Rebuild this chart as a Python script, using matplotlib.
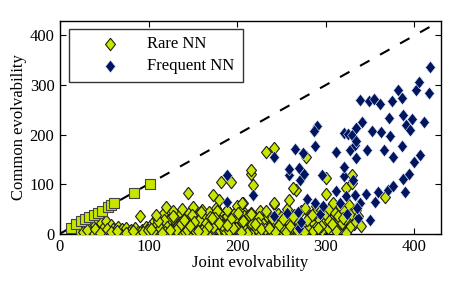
import matplotlib
matplotlib.use("Agg")
import matplotlib.pyplot as plt

plt.rcParams['font.family'] = ['Liberation Serif', 'DejaVu Serif']

# Rare NN (diamonds)
rare_x = [20,24,27,30,33,35,37,40,42,44,46,48,50,52,55,57,60,62,65,68,
          70,72,75,78,80,83,85,88,90,92,95,97,100,
          102,104,106,108,110,112,114,116,118,120,120,122,124,126,128,130,130,132,134,136,138,138,
          140,142,144,144,146,148,150,150,152,154,156,158,160,160,162,164,166,168,170,170,172,174,
          176,178,180,180,182,182,184,186,188,188,190,192,194,196,198,200,200,202,204,205,206,207,
          208,210,212,214,215,216,216,218,218,220,222,224,226,228,230,232,233,234,236,238,240,241,
          242,242,244,246,248,250,252,254,256,258,258,260,262,264,266,266,268,270,272,274,276,277,
          278,280,282,284,286,288,289,290,292,294,296,298,300,300,300,302,304,306,308,310,312,314,
          316,318,320,322,323,324,326,328,329,330,332,334,336,340,367,
          173,179,193,188,205,241,263,308,
          26,31,39,45,53,58,64,74,82,94,99,
          105,109,113,117,121,125,129,133,137,141,145,149,153,157,161,165,169,173,177,181,
          185,189,193,197,201,205,209,213,217,221,225,229,233,237,241,245,249,253,257,261,
          103,111,119,127,135,143,151,159,167,175,183,191,199,207,215,223,231,239,247,255,
          263,271,279,287,295,303,311,319,327,
          115,131,147,163,179,195,211,227,243,259,275,291,307,323,
          108,124,140,156,172,188,204,220,236,252,268,284]
rare_y = [8,15,5,20,12,27,3,18,30,8,22,2,14,25,6,18,10,3,14,5,
          9,2,12,4,8,1,11,3,36,8,2,13,5,
          15,3,25,10,32,5,18,40,8,54,22,2,30,12,45,4,25,15,35,6,50,20,
          10,28,83,2,42,14,54,30,6,22,38,10,48,2,18,30,8,44,25,3,12,36,
          52,20,6,40,105,15,28,2,48,35,10,22,5,40,15,30,55,3,20,48,10,61,
          35,4,25,14,121,129,42,98,6,30,18,2,45,12,25,4,165,35,15,8,28,60,
          172,2,18,40,10,5,30,15,50,68,3,22,10,38,88,5,28,15,45,3,20,52,
          154,10,35,25,5,42,56,15,30,48,8,22,112,80,38,12,50,28,18,42,10,35,
          55,22,45,30,92,8,58,40,119,103,20,48,35,15,74,
          78,68,105,48,61,62,92,61,
          4,7,10,2,9,3,6,2,5,4,7,
          6,20,11,28,14,8,33,18,24,3,12,38,16,27,9,21,33,14,45,26,
          8,18,29,12,42,24,7,37,20,11,33,19,45,5,24,14,33,8,26,12,
          10,26,3,36,17,7,24,43,13,31,18,6,12,25,39,21,9,32,18,4,
          34,9,27,40,16,26,5,32,13,
          2,8,16,4,22,12,1,9,4,15,3,12,20,2,
          38,8,28,5,32,18,3,20,12,30,8,38]

# Rare NN points lying on the diagonal (squares)
diag_x = [12,18,24,28,33,38,43,47,54,58,61,84,102]
diag_y = [11,20,26,30,34,38,42,46,54,57,61,83,101]

# Frequent NN (diamonds)
freq_x = [188,188,218,241,242,256,258,258,265,269,270,270,271,272,274,275,279,288,288,290,
          287,293,296,297,311,311,316,320,320,321,325,329,324,327,331,333,334,323,333,334,
          334,336,339,339,335,341,345,346,350,349,354,352,355,359,361,362,366,370,371,372,
          375,376,376,381,386,386,387,387,389,390,394,395,397,400,402,405,406,411,416,417]
freq_y = [119,63,78,155,35,42,119,131,170,44,132,11,108,24,162,121,70,177,61,218,
          207,40,118,56,86,164,62,116,135,203,202,199,40,168,109,179,152,75,78,213,
          187,31,270,61,51,225,80,169,28,267,272,208,63,85,262,206,169,88,234,198,
          267,96,155,290,274,177,111,240,84,220,121,210,232,145,289,306,158,226,284,336]

diag_line = [0, 430]

yellow = '#c8e600'
navy = '#001560'
dia = [(0, 1), (0.8, 0), (0, -1), (-0.8, 0), (0, 1)]

fig = plt.figure(figsize=(4.58, 2.86), dpi=100)
ax = fig.add_axes([0.131, 0.183, 0.832, 0.745])

ax.plot(diag_line, diag_line, color='black', lw=1.5, dashes=(5.2, 5.8), zorder=1)
ax.scatter(rare_x, rare_y, marker=dia, s=80, c=yellow, edgecolors='#1e1e1e',
           linewidths=0.8, label='Rare NN', zorder=3)
ax.scatter(freq_x, freq_y, marker=dia, s=80, c=navy, edgecolors='#dfe3f0',
           linewidths=0.4, label='Frequent NN', zorder=3)
ax.scatter(diag_x, diag_y, marker='s', s=42, c=yellow, edgecolors='#444444',
           linewidths=0.8, zorder=4)

ax.set_xlim(0, 430)
ax.set_ylim(0, 430)
ax.set_xticks([0, 100, 200, 300, 400])
ax.set_yticks([0, 100, 200, 300, 400])
ax.tick_params(direction='in', length=4, width=0.8, top=True, right=True,
               labelsize=12, pad=4)
for sp in ax.spines.values():
    sp.set_linewidth(1.0)

ax.set_xlabel('Joint evolvability', fontsize=12, labelpad=0)
ax.set_ylabel('Common evolvability', fontsize=12, labelpad=2)

leg = ax.legend(loc='upper left', bbox_to_anchor=(0.024, 0.962, 0.455, 0.0),
                mode='expand', borderaxespad=0, fontsize=12, frameon=True,
                fancybox=False, edgecolor='black', borderpad=0.45,
                handlelength=4.0, handletextpad=0.2, labelspacing=0.35)
leg.get_frame().set_linewidth(1.0)

fig.savefig('out.png', dpi=100)
